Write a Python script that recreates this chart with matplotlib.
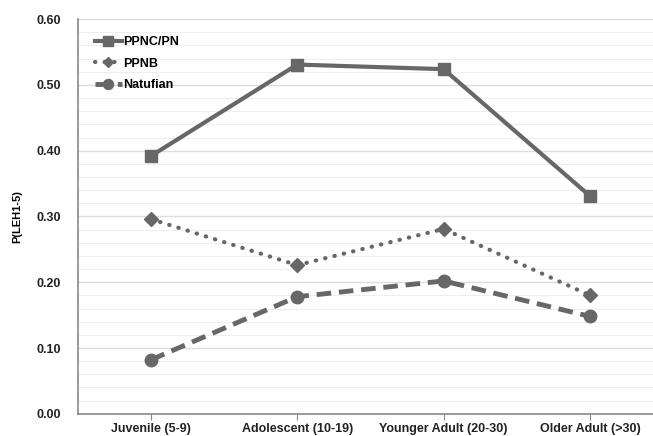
import matplotlib.pyplot as plt
from matplotlib.ticker import MultipleLocator

plt.rcParams['font.family'] = ['Liberation Sans', 'DejaVu Sans']

groups = ["Juvenile (5-9)", "Adolescent (10-19)", "Younger Adult (20-30)", "Older Adult (>30)"]
ppnc_pn = [0.392, 0.531, 0.524, 0.331]
ppnb = [0.296, 0.226, 0.281, 0.180]
natufian = [0.082, 0.178, 0.202, 0.148]
yticks = [0.0, 0.1, 0.2, 0.3, 0.4, 0.5, 0.6]

grey = "#676767"
x = list(range(len(groups)))

fig = plt.figure(figsize=(6.53, 4.36), dpi=100)
ax = fig.add_axes([0.119, 0.051, 0.881, 0.905])

ax.plot(x, ppnc_pn, color=grey, lw=3, marker="s", ms=9, label="PPNC/PN", zorder=3)
ax.plot(x, ppnb, color=grey, lw=3, ls=(0, (0.1, 2.2)), dash_capstyle="round",
        marker="D", ms=7, label="PPNB", zorder=3)
ax.plot(x, natufian, color=grey, lw=3.5, ls=(0, (3, 1.6)), marker="o", ms=9,
        label="Natufian", zorder=3)

ax.set_xticks(x)
ax.set_xticklabels(groups, fontsize=9, fontweight="bold", color="#222222")
ax.set_yticks(yticks)
ax.set_yticklabels([f"{v:.2f}" for v in yticks], fontsize=9,
                   fontweight="bold", color="#222222")
ax.yaxis.set_minor_locator(MultipleLocator(0.02))
ax.set_xlim(-0.5, 3.43)
ax.set_ylim(0, 0.6)
ax.tick_params(axis="y", which="both", length=0, pad=12)
ax.tick_params(axis="x", length=4, color="#888888", pad=3)
ax.grid(axis="y", which="major", color="#dddddd", lw=1)
ax.grid(axis="y", which="minor", color="#eeeeee", lw=0.8)
ax.set_axisbelow(True)

for s in ["top", "right"]:
    ax.spines[s].set_visible(False)
for s in ["left", "bottom"]:
    ax.spines[s].set_color("#888888")
    ax.spines[s].set_linewidth(1.2)

ax.set_ylabel("P(LEH1-5)", fontsize=8, fontweight="bold", labelpad=10)

leg = ax.legend(loc="upper left", bbox_to_anchor=(0.01, 0.985), frameon=False,
                handlelength=2.2, handletextpad=0.1, labelspacing=0.75,
                prop={"weight": "bold", "size": 9}, markerscale=0.8)

fig.savefig("out.png", dpi=100)
